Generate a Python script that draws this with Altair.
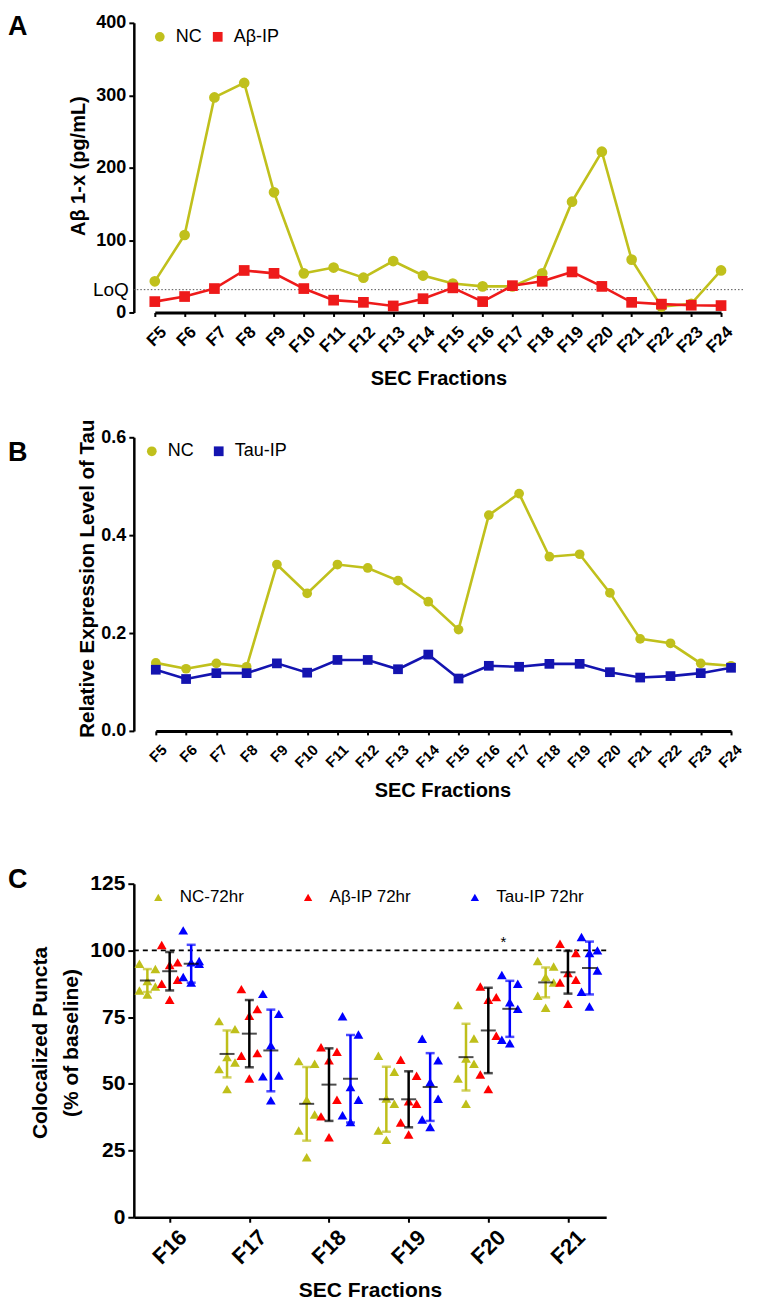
import json
import altair as alt
import pandas as pd

FONT = "Liberation Sans, Arial, sans-serif"

# ---------------- data ----------------
FRACS = ["F5", "F6", "F7", "F8", "F9", "F10", "F11", "F12", "F13", "F14",
         "F15", "F16", "F17", "F18", "F19", "F20", "F21", "F22", "F23", "F24"]
A_SERIES = ["NC", "Aβ-IP"]
A_NC = [43, 107, 297, 317, 166, 54, 62, 48, 71, 51, 40, 36, 36, 54, 153, 222, 73, 8, 12, 58]
A_AB = [15, 22, 33, 58, 54, 33, 17, 14, 9, 19, 34, 15, 37, 43, 56, 36, 14, 11.5, 10, 9.5]
A_LOQ = 31.5

B_SERIES = ["NC", "Tau-IP"]
B_NC = [0.139, 0.127, 0.138, 0.131, 0.340, 0.281, 0.340, 0.333, 0.307, 0.264,
        0.207, 0.441, 0.485, 0.356, 0.361, 0.282, 0.188, 0.179, 0.138, 0.133]
B_TAU = [0.125, 0.106, 0.118, 0.118, 0.138, 0.119, 0.145, 0.145, 0.126, 0.156,
         0.107, 0.133, 0.131, 0.137, 0.137, 0.120, 0.109, 0.112, 0.118, 0.129]

C_FRACS = ["F16", "F17", "F18", "F19", "F20", "F21"]
C_GROUPS = ["NC-72hr", "Aβ-IP 72hr", "Tau-IP 72hr"]
C_NC_VALUES = [[95, 93, 88.5, 86.5, 85, 83.5],
               [73.5, 70.5, 60, 58, 55.5, 48],
               [58.5, 57.5, 44, 38.5, 32.5, 22.5],
               [60.5, 54.5, 44.5, 42.5, 32.5, 29],
               [79.5, 67, 59.5, 57.5, 52, 42.5],
               [96, 94, 90, 88, 83, 78.5]]
C_AB_VALUES = [[102, 95.5, 94.5, 89, 87.5, 81.5],
               [85.5, 78, 75.5, 61.5, 60.5, 52],
               [63.7, 62, 58.8, 44, 37.8, 30],
               [59, 53, 43.5, 42.5, 35.5, 31],
               [86.5, 82.5, 81.5, 68, 53.5, 48],
               [102.5, 99, 91.5, 89, 88, 80]]
C_TAU_VALUES = [[107.5, 96, 95.5, 95, 90, 88],
                [83.7, 76.2, 64.4, 53.1, 52.8, 43.8],
                [75.3, 68.5, 48.8, 44, 38.2, 35.7],
                [66.9, 58.8, 50.6, 44.4, 36.6, 33.8],
                [90.8, 87.5, 80.6, 78.1, 66.5, 65.2],
                [105, 100, 99, 92.5, 84.5, 79]]
C_NC_MEAN = [88.7, 61.2, 42.5, 44.2, 60.0, 88.0]
C_NC_SD = [4.3, 8.8, 13.8, 12.2, 12.5, 5.6]
C_AB_MEAN = [92.2, 68.8, 49.7, 44.2, 70.0, 91.8]
C_AB_SD = [7.2, 12.6, 13.6, 10.5, 16.0, 8.0]
C_TAU_MEAN = [95.0, 62.5, 51.9, 48.8, 78.1, 93.4]
C_TAU_SD = [7.1, 15.3, 16.4, 12.7, 10.5, 9.9]
C_BASELINE = 100
C_STAR = ["*"]
C_STAR_AT = [4.19]
C_STAR_Y = [103]

PANELS = ["A", "B", "C"]

# ---------------- styles ----------------
YEL = "#c0c01c"
RED_A = "#ee1a1a"
BLUE_B = "#1414b0"
C_COLORS = ["#bfbf1a", "#ff0000", "#0000ff"]
C_BAR_COLORS = ["#bfbf1a", "#000000", "#0000ff"]
GROUP_OFFSET = [-0.28, 0.0, 0.27]
JITTER = [-0.1, 0.1, 0.0, 0.1, -0.1, 0.0]

one = pd.DataFrame({"k": [0]})


def letter(ch, y):
    return alt.Chart(one).mark_text(
        text=ch, align="left", baseline="alphabetic", font=FONT,
        fontSize=27, fontWeight="bold", color="black"
    ).encode(x=alt.value(-126), y=alt.value(y))


def spacer(h):
    return alt.Chart(one).mark_point(opacity=0).encode(
        x=alt.value(0), y=alt.value(0)).properties(width=10, height=h)


def line_panel(series_names, vals1, vals2, colors, shapes, wA, rng, ydom, yvals,
               ytitle, ytitle_x, ytitle_y, ytitle_size, yfmt, xlab_size, lw, msize,
               legend_xy, col_pad, xtitle_y):
    df = pd.DataFrame({
        "frac": FRACS * 2,
        "series": [series_names[0]] * len(FRACS) + [series_names[1]] * len(FRACS),
        "value": vals1 + vals2,
    })
    x = alt.X("frac:N", sort=FRACS,
              scale=alt.Scale(type="point", range=rng, padding=0),
              axis=alt.Axis(title="SEC Fractions", titleFont=FONT, titleFontSize=20,
                            titleFontWeight="bold", titleColor="black",
                            titleX=wA / 2, titleY=xtitle_y, titleBaseline="middle",
                            titleAlign="center",
                            labelAngle=-45, labelAlign="right", labelBaseline="top",
                            labelFont=FONT, labelFontSize=xlab_size, labelFontWeight="bold",
                            labelColor="black", labelPadding=7, labelOffset=3,
                            domainColor="black", domainWidth=3, tickColor="black",
                            tickWidth=2, tickSize=4, grid=False))
    y = alt.Y("value:Q", scale=alt.Scale(domain=ydom, nice=False),
              axis=alt.Axis(values=yvals, format=yfmt, title=ytitle, titleFont=FONT,
                            titleFontSize=ytitle_size, titleFontWeight="bold",
                            titleColor="black", titleX=ytitle_x, titleY=ytitle_y,
                            titleAngle=-90, titleBaseline="top", titleAlign="center",
                            labelFont=FONT, labelFontSize=18, labelFontWeight="bold",
                            labelColor="black", labelPadding=3, domainColor="black",
                            domainWidth=2.5, tickColor="black", tickWidth=2, tickSize=5,
                            grid=False))
    leg = alt.Legend(title=None, orient="none", legendX=legend_xy[0], legendY=legend_xy[1],
                     direction="horizontal", labelFont=FONT, labelFontSize=18,
                     labelColor="black", labelOffset=7, columnPadding=col_pad, padding=0,
                     symbolStrokeWidth=0, symbolSize=95)
    color = alt.Color("series:N", scale=alt.Scale(domain=series_names, range=colors), legend=leg)
    shape = alt.Shape("series:N", scale=alt.Scale(domain=series_names, range=shapes), legend=leg)
    lines = alt.Chart(df).mark_line(strokeWidth=lw).encode(
        x=x, y=y, color=alt.Color("series:N", scale=alt.Scale(domain=series_names, range=colors),
                                  legend=None), detail="series:N")
    pts = alt.Chart(df).mark_point(filled=True, opacity=1, size=msize).encode(
        x=x, y=y, color=color, shape=shape)
    return lines, pts


# ---------- Panel A ----------
A_W, A_H = 610, 290
linesA, ptsA = line_panel(A_SERIES, A_NC, A_AB, [YEL, RED_A], ["circle", "square"], A_W,
                          [21, 588], [0, 400], [0, 100, 200, 300, 400],
                          "Aβ 1-x (pg/mL)", -65, 143, 20, "d", 17, 2.6, 115,
                          (17, 5), 7, 66)
loq_df = pd.DataFrame({"loq": [A_LOQ], "lab": ["LoQ"]})
loq_rule = alt.Chart(loq_df).mark_rule(color="#555555", strokeDash=[1.5, 2], strokeWidth=1).encode(
    y=alt.Y("loq:Q", scale=alt.Scale(domain=[0, 400], nice=False)))
loq_text = alt.Chart(loq_df).mark_text(align="right", baseline="middle", font=FONT, fontSize=19,
                                      color="black", dx=-5).encode(
    x=alt.value(0), y=alt.Y("loq:Q", scale=alt.Scale(domain=[0, 400], nice=False)), text="lab:N")
top_marker = alt.Chart(one).mark_point(size=1, filled=True, color="white", opacity=1).encode(
    x=alt.value(0), y=alt.value(-13))
panelA = alt.layer(loq_rule, linesA, ptsA, loq_text, letter(PANELS[0], 12), top_marker).resolve_scale(
    color="independent", shape="independent").properties(width=A_W, height=A_H)

# ---------- Panel B ----------
B_W, B_H = 618, 294
linesB, ptsB = line_panel(B_SERIES, B_NC, B_TAU, [YEL, BLUE_B], ["circle", "square"], B_W,
                          [22, 598], [0, 0.6], [0, 0.2, 0.4, 0.6],
                          "Relative Expression Level of Tau", -56, 141, 20.5, ".1f", 15, 2.6, 95,
                          (9, 5), 16, 60)
panelB = alt.layer(linesB, ptsB, letter(PANELS[1], 24)).resolve_scale(
    color="independent", shape="independent").properties(width=B_W, height=B_H)

# ---------- Panel C ----------
C_W, C_H = 473, 334
rows_pts, rows_bar = [], []
for g, (vals, means, sds) in enumerate([(C_NC_VALUES, C_NC_MEAN, C_NC_SD),
                                        (C_AB_VALUES, C_AB_MEAN, C_AB_SD),
                                        (C_TAU_VALUES, C_TAU_MEAN, C_TAU_SD)]):
    for i in range(len(C_FRACS)):
        for j, v in enumerate(vals[i]):
            rows_pts.append({"pos": i + GROUP_OFFSET[g] + JITTER[j], "value": v, "group": C_GROUPS[g]})
        rows_bar.append({"pos": i + GROUP_OFFSET[g], "mean": means[i], "lo": means[i] - sds[i],
                         "hi": means[i] + sds[i], "group": C_GROUPS[g]})
dfCp = pd.DataFrame(rows_pts)
dfCb = pd.DataFrame(rows_bar)

label_expr = "%s[round(datum.value)]" % json.dumps(C_FRACS)
xscaleC = alt.Scale(domain=[-0.45, 5.48], nice=False, zero=False)
xaxisC = alt.Axis(values=list(range(len(C_FRACS))), labelExpr=label_expr,
                  title="SEC Fractions", titleFont=FONT, titleFontSize=21,
                  titleFontWeight="bold", titleColor="black", titleX=C_W / 2,
                  titleY=73, titleBaseline="middle", titleAlign="center",
                  labelAngle=-45, labelAlign="right", labelBaseline="top",
                  labelFont=FONT, labelFontSize=22, labelFontWeight="bold",
                  labelColor="black", labelPadding=4, labelOffset=6,
                  domainColor="black", domainWidth=2.5, tickColor="black",
                  tickWidth=2, tickSize=5, grid=False)
yscaleC = alt.Scale(domain=[0, 125], nice=False)
yaxisC = alt.Axis(values=[0, 25, 50, 75, 100, 125],
                  title=["Colocalized Puncta", "(% of baseline)"], titleFont=FONT,
                  titleFontSize=21, titleFontWeight="bold", titleColor="black",
                  titleX=-104, titleY=159, titleAngle=-90, titleBaseline="top",
                  titleAlign="center", titleLineHeight=31,
                  labelFont=FONT, labelFontSize=21, labelFontWeight="bold",
                  labelColor="black", labelPadding=3, domainColor="black",
                  domainWidth=2.5, tickColor="black", tickWidth=2, tickSize=6,
                  grid=False)


def xc():
    return alt.X("pos:Q", scale=xscaleC, axis=xaxisC)


def yc(field):
    return alt.Y(field, scale=yscaleC, axis=yaxisC)


legC = alt.Legend(title=None, orient="none", legendX=16, legendY=5, direction="horizontal",
                  labelFont=FONT, labelFontSize=17, labelColor="black", labelOffset=13,
                  columnPadding=55, padding=0, symbolStrokeWidth=0, symbolSize=70,
                  symbolType="triangle-up")
colorC = alt.Color("group:N", scale=alt.Scale(domain=C_GROUPS, range=C_COLORS), legend=legC)


def barColor():
    return alt.Color("group:N", scale=alt.Scale(domain=C_GROUPS, range=C_BAR_COLORS), legend=None)


baseline = alt.Chart(pd.DataFrame({"b": [C_BASELINE]})).mark_rule(
    color="black", strokeDash=[5, 4], strokeWidth=1.8).encode(y=yc("b:Q"))
ptsC = alt.Chart(dfCp).mark_point(shape="triangle-up", filled=True, opacity=1, size=95).encode(
    x=xc(), y=yc("value:Q"), color=colorC)
bars = alt.Chart(dfCb).mark_rule(strokeWidth=2.5).encode(
    x=xc(), y=yc("lo:Q"), y2="hi:Q", color=barColor())
cap_lo = alt.Chart(dfCb).mark_tick(orient="horizontal", size=9, thickness=2.5).encode(
    x=xc(), y=yc("lo:Q"), color=barColor())
cap_hi = alt.Chart(dfCb).mark_tick(orient="horizontal", size=9, thickness=2.5).encode(
    x=xc(), y=yc("hi:Q"), color=barColor())
mean_tick = alt.Chart(dfCb).mark_tick(orient="horizontal", size=15, thickness=2, color="black").encode(
    x=xc(), y=yc("mean:Q"))
star = alt.Chart(pd.DataFrame({"pos": C_STAR_AT, "y": C_STAR_Y, "t": C_STAR})).mark_text(
    font=FONT, fontSize=15, color="black", baseline="middle").encode(
    x=xc(), y=yc("y:Q"), text="t:N")

panelC = alt.layer(baseline, ptsC, bars, cap_lo, cap_hi, mean_tick, star,
                   letter(PANELS[2], 4)).resolve_scale(color="independent").properties(
    width=C_W, height=C_H)

chart = alt.vconcat(panelA, spacer(125), panelB, spacer(153), panelC,
                    spacing=0, bounds="flush").resolve_scale(
    color="independent", shape="independent", x="independent", y="independent").properties(
    padding=0).configure_view(strokeWidth=0)

chart.save("out.html", embed_options={"renderer": "svg", "actions": False})
